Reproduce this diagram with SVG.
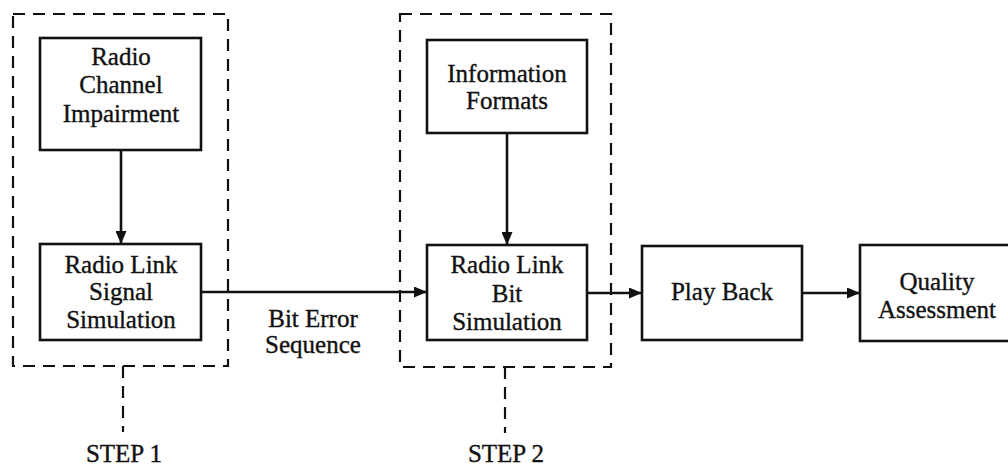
<svg xmlns="http://www.w3.org/2000/svg" width="1008" height="465" viewBox="0 0 1008 465">
  <style>
    .box { fill: #fff; stroke: #111; stroke-width: 2.6; }
    .frame { fill: none; stroke: #111; stroke-width: 2.2; stroke-dasharray: 12 8; }
    .wire { fill: none; stroke: #111; stroke-width: 2.6; }
    text { font-family: "Liberation Serif", "DejaVu Serif", serif; font-size: 25px; fill: #111; stroke: #111; stroke-width: 0.35; text-anchor: middle; }
  </style>
  <defs>
    <marker id="arrow" viewBox="0 0 13 11" refX="13" refY="5.5" markerWidth="13" markerHeight="11" markerUnits="userSpaceOnUse" orient="auto">
      <path d="M0,0 L13,5.5 L0,11 Z" fill="#111"/>
    </marker>
  </defs>

  <rect width="1008" height="465" fill="#fff"/>

  <!-- step frames -->
  <g id="step1">
    <rect class="frame" x="13" y="14" width="215" height="352"/>
    <line class="frame" x1="123" y1="366" x2="123" y2="432"/>
    <text x="124" y="462">STEP 1</text>
  </g>
  <g id="step2">
    <rect class="frame" x="400" y="14" width="211" height="353"/>
    <line class="frame" x1="505" y1="367" x2="505" y2="433"/>
    <text x="506" y="462">STEP 2</text>
  </g>

  <!-- connectors -->
  <g id="connectors">
    <line class="wire" x1="201" y1="292" x2="427" y2="292" marker-end="url(#arrow)"/>
    <line class="wire" x1="121" y1="150" x2="121" y2="244" marker-end="url(#arrow)"/>
    <line class="wire" x1="507" y1="133" x2="507" y2="245" marker-end="url(#arrow)"/>
    <line class="wire" x1="587" y1="293" x2="642" y2="293" marker-end="url(#arrow)"/>
    <line class="wire" x1="802" y1="293" x2="860" y2="293" marker-end="url(#arrow)"/>
    <text x="313" y="327">Bit Error</text>
    <text x="313" y="353">Sequence</text>
  </g>

  <!-- blocks -->
  <g id="radio-channel-impairment">
    <rect class="box" x="40" y="38" width="161" height="112"/>
    <text x="121" y="65">Radio</text>
    <text x="121" y="93">Channel</text>
    <text x="121" y="122">Impairment</text>
  </g>
  <g id="radio-link-signal-simulation">
    <rect class="box" x="40" y="244" width="161" height="96"/>
    <text x="121" y="273">Radio Link</text>
    <text x="121" y="300">Signal</text>
    <text x="121" y="328">Simulation</text>
  </g>
  <g id="information-formats">
    <rect class="box" x="427" y="40" width="160" height="93"/>
    <text x="507" y="82">Information</text>
    <text x="507" y="109">Formats</text>
  </g>
  <g id="radio-link-bit-simulation">
    <rect class="box" x="427" y="245" width="160" height="95"/>
    <text x="507" y="273">Radio Link</text>
    <text x="507" y="302">Bit</text>
    <text x="507" y="330">Simulation</text>
  </g>
  <g id="play-back">
    <rect class="box" x="642" y="246" width="160" height="94"/>
    <text x="722" y="300">Play Back</text>
  </g>
  <g id="quality-assessment">
    <rect class="box" x="860" y="245" width="160" height="96"/>
    <text x="937" y="290">Quality</text>
    <text x="937" y="318">Assessment</text>
  </g>
</svg>
